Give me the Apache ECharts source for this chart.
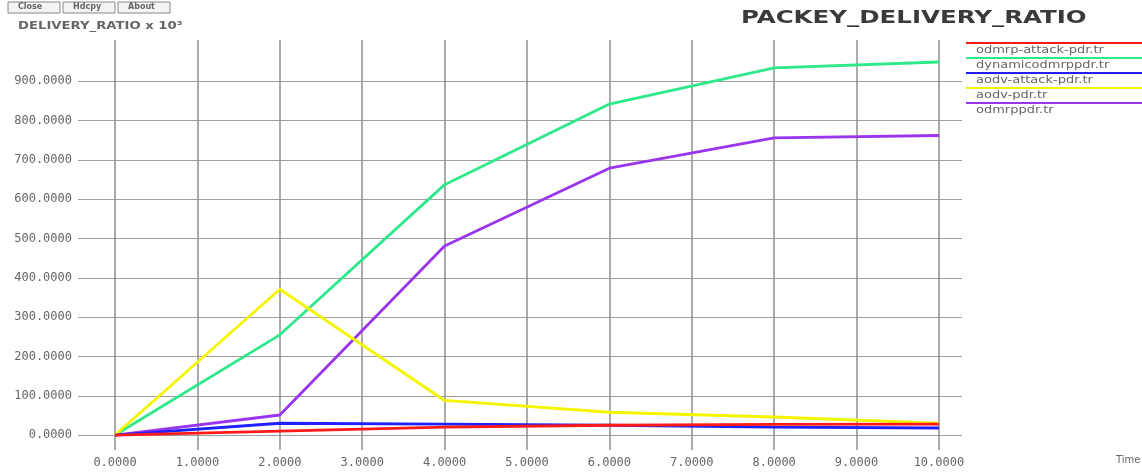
<!DOCTYPE html>
<html>
<head>
<meta charset="utf-8">
<script src="https://cdn.jsdelivr.net/npm/echarts@6/dist/echarts.min.js"></script>
<style>
  html, body { margin: 0; padding: 0; background: #fff; }
  #chart { width: 1142px; height: 472px; }
</style>
</head>
<body>
<div id="chart"></div>
<script>
  // data
  const times = [0, 2, 4, 6, 8, 10]
  const xTicks = [0, 1, 2, 3, 4, 5, 6, 7, 8, 9, 10]
  const yTicks = [0, 100, 200, 300, 400, 500, 600, 700, 800, 900]

  const seriesNames = ['odmrp-attack-pdr.tr', 'dynamicodmrppdr.tr', 'aodv-attack-pdr.tr', 'aodv-pdr.tr', 'odmrppdr.tr']
  const seriesColors = ['#ff1a1a', '#2ee88a', '#2020ff', '#f5f500', '#9a35ee']
  const odmrpAttack = [0, 10, 20, 25, 27, 28]
  const dynamicOdmrp = [0, 255, 637, 842, 934, 949]
  const aodvAttack = [0, 30, 28, 25, 20, 18]
  const aodv = [0, 371, 88, 58, 46, 30]
  const odmrp = [0, 51, 481, 679, 756, 762]
  const allValues = [odmrpAttack, dynamicOdmrp, aodvAttack, aodv, odmrp]

  // draw order: green and purple first, then the low lines over them
  const drawOrder = [1, 4, 3, 2, 0]

  const chart = echarts.init(document.getElementById('chart'))

  const labelFont = { fontFamily: 'DejaVu Sans Mono', fontSize: 12, color: '#666' }

  // legend like xgraph: a line with the file name under it
  const extras = []
  seriesNames.forEach((name, i) => {
    const y = 43 + i * 15
    extras.push({
      type: 'line',
      shape: { x1: 966, y1: y, x2: 1142, y2: y },
      style: { stroke: seriesColors[i], lineWidth: 2 }
    })
    extras.push({
      type: 'text',
      x: 976,
      y: y + 2,
      style: { text: name, font: '10px DejaVu Sans', fill: '#666' },
      scaleX: 1.3
    })
  })

  // Close / Hdcpy / About buttons
  const buttons = ['Close', 'Hdcpy', 'About']
  buttons.forEach((b, i) => {
    extras.push({
      type: 'rect',
      shape: { x: 8 + i * 55, y: 2, width: 52, height: 11 },
      style: { fill: '#f4f4f4', stroke: '#888', lineWidth: 1 }
    })
    extras.push({
      type: 'text',
      x: 18 + i * 55,
      y: 3,
      style: { text: b, font: 'bold 8px DejaVu Sans', fill: '#666' }
    })
  })

  extras.push({
    type: 'text',
    x: 741,
    y: 9,
    scaleX: 1.36,
    style: { text: 'PACKEY_DELIVERY_RATIO', font: 'bold 18px DejaVu Sans', fill: '#3a3a3a' }
  })
  extras.push({
    type: 'text',
    x: 18,
    y: 21,
    scaleX: 1.2,
    style: { text: 'DELIVERY_RATIO x 10³', font: 'bold 11px DejaVu Sans', fill: '#666' }
  })
  extras.push({
    type: 'text',
    x: 1116,
    y: 455,
    style: { text: 'Time', font: '10px DejaVu Sans', fill: '#666' }
  })

  chart.setOption({
    animation: false,
    graphic: extras,
    grid: { left: 78, right: 180, top: 40, bottom: 22 },
    xAxis: {
      type: 'value',
      min: -0.45,
      max: 10.28,
      axisLine: { show: false },
      axisTick: { show: false, customValues: xTicks },
      axisLabel: {
        customValues: xTicks,
        margin: 7,
        formatter: v => v.toFixed(4),
        ...labelFont
      },
      splitLine: { show: true, lineStyle: { color: '#8f8f8f', width: 1.5 } }
    },
    yAxis: {
      type: 'value',
      min: -38,
      max: 1005,
      axisLine: { show: false },
      axisTick: { show: false, customValues: yTicks },
      axisLabel: {
        customValues: yTicks,
        margin: 6,
        formatter: v => v.toFixed(4),
        ...labelFont
      },
      splitLine: { show: true, lineStyle: { color: '#a0a0a0', width: 1 } }
    },
    series: drawOrder.map(i => ({
      name: seriesNames[i],
      type: 'line',
      data: times.map((t, k) => [t, allValues[i][k]]),
      showSymbol: false,
      color: seriesColors[i],
      lineStyle: { width: 2.8 }
    }))
  })
</script>
</body>
</html>
